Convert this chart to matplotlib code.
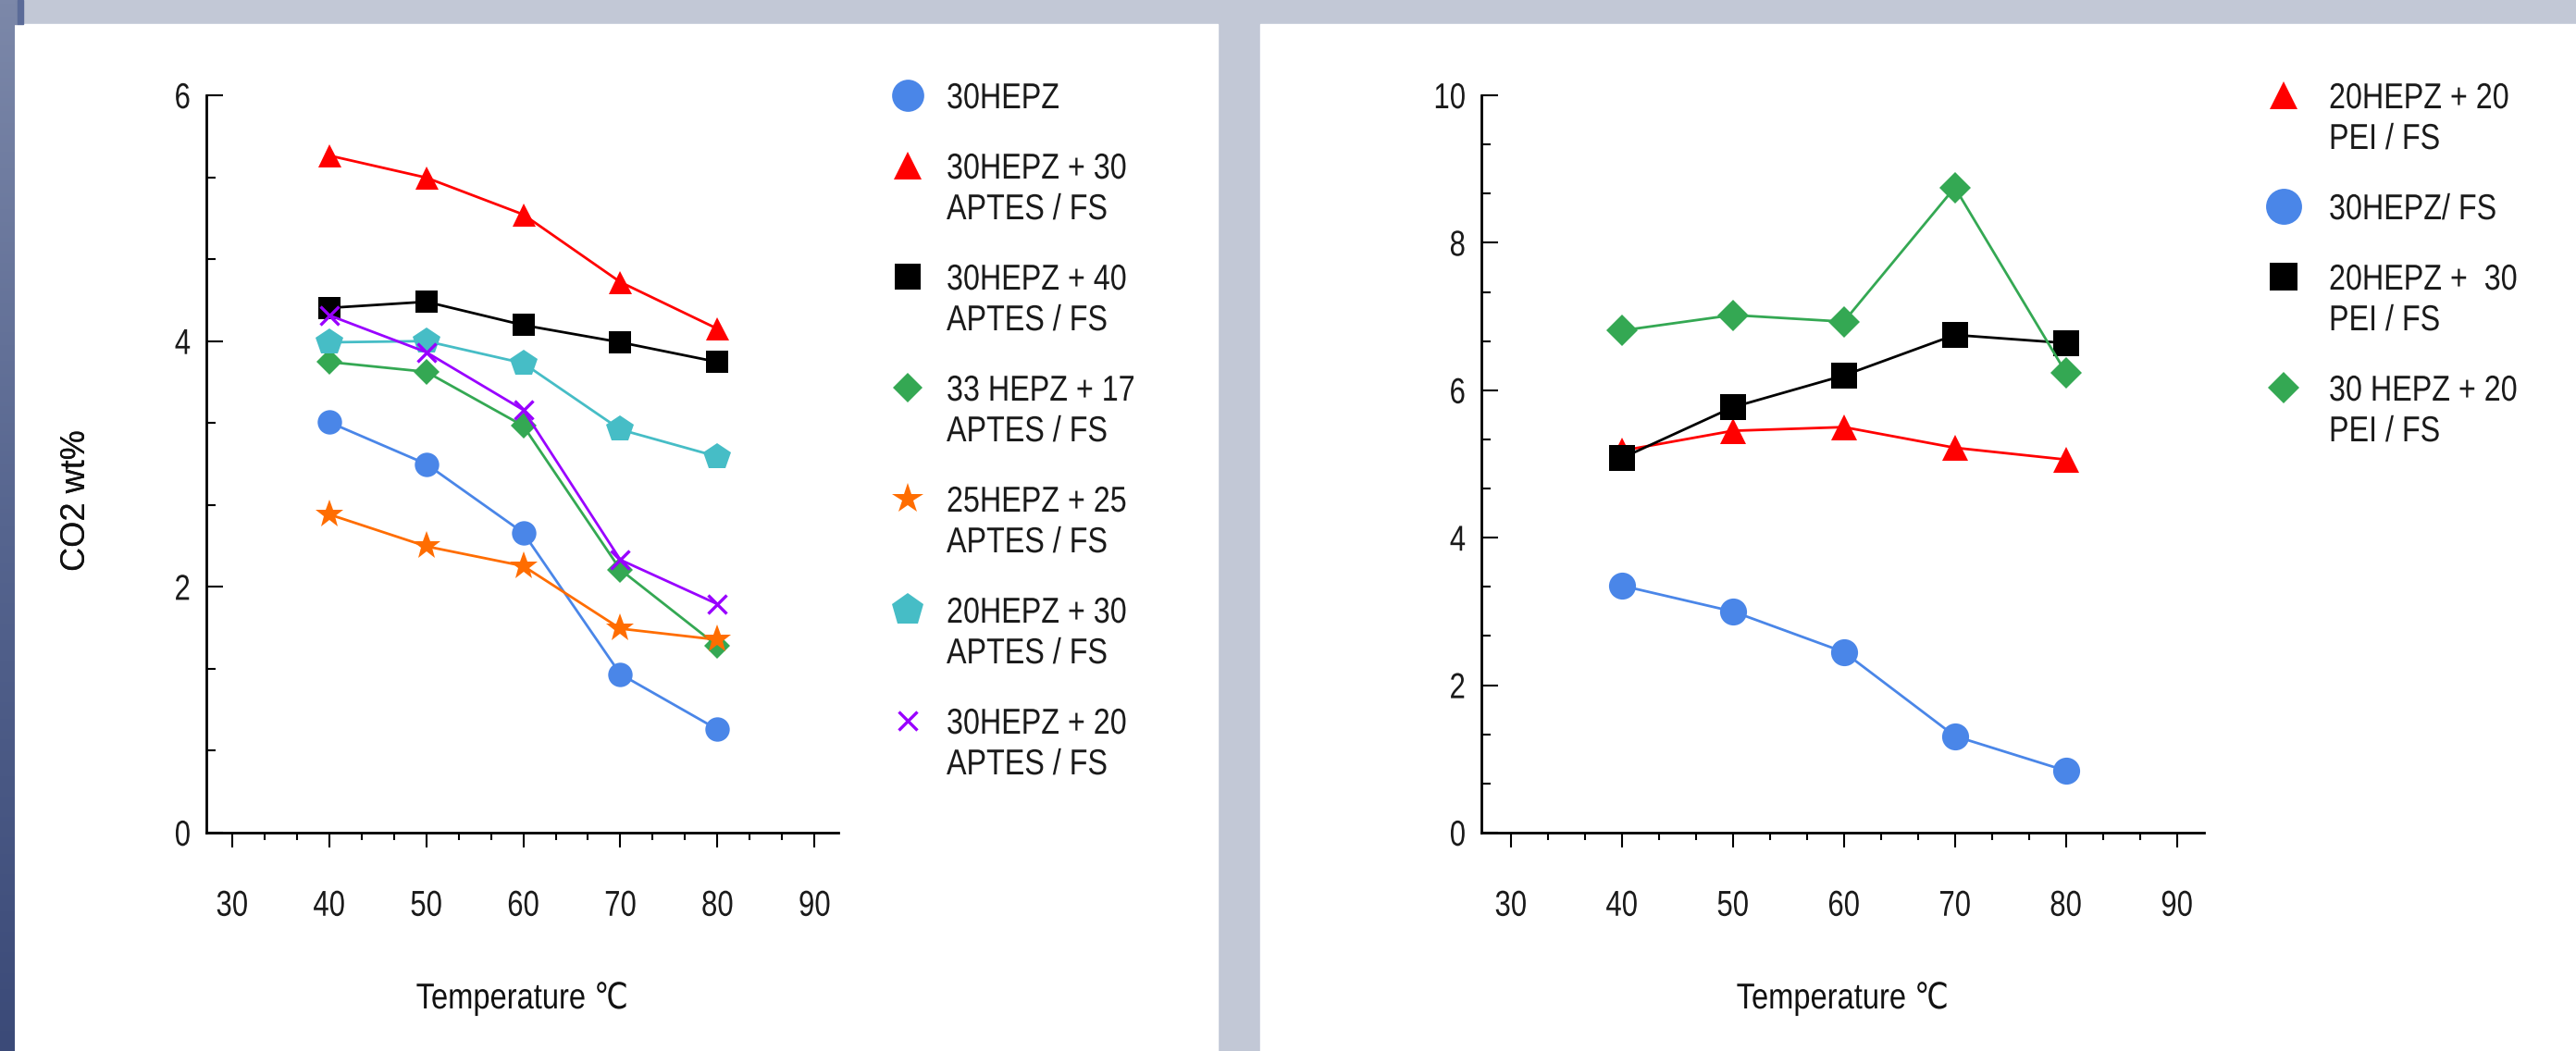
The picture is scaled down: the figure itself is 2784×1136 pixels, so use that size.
import numpy as np
import matplotlib
matplotlib.use('Agg')
import matplotlib.pyplot as plt
from matplotlib.lines import Line2D
from matplotlib.patches import Rectangle
from matplotlib.colors import LinearSegmentedColormap
from matplotlib.ticker import MultipleLocator
from matplotlib.transforms import Affine2D
from matplotlib.patheffects import AbstractPathEffect

W, H = 2784, 1136
NARROW = ['Liberation Sans Narrow', 'Liberation Sans', 'DejaVu Sans']
WIDE = ['Liberation Sans', 'DejaVu Sans']
plt.rcParams['font.family'] = NARROW

temps = [40, 50, 60, 70, 80]

# left panel (APTES)
aptes_labels = ['30HEPZ', '30HEPZ + 30\nAPTES / FS', '30HEPZ + 40\nAPTES / FS',
                '33 HEPZ + 17\nAPTES / FS', '25HEPZ + 25\nAPTES / FS',
                '20HEPZ + 30\nAPTES / FS', '30HEPZ + 20\nAPTES / FS']
hepz30 = [3.34, 3.00, 2.44, 1.29, 0.84]
hepz30_aptes30 = [5.51, 5.33, 5.03, 4.48, 4.10]
hepz30_aptes40 = [4.27, 4.32, 4.13, 3.99, 3.83]
hepz33_aptes17 = [3.83, 3.75, 3.31, 2.14, 1.52]
hepz25_aptes25 = [2.59, 2.33, 2.17, 1.66, 1.57]
hepz20_aptes30 = [3.99, 4.00, 3.82, 3.28, 3.06]
hepz30_aptes20 = [4.21, 3.91, 3.44, 2.22, 1.86]

# right panel (PEI)
pei_labels = ['20HEPZ + 20\nPEI / FS', '30HEPZ/ FS', '20HEPZ +  30\nPEI / FS',
              '30 HEPZ + 20\nPEI / FS']
hepz20_pei20 = [5.18, 5.45, 5.50, 5.22, 5.06]
hepz30_fs = [3.35, 3.00, 2.45, 1.31, 0.84]
hepz20_pei30 = [5.08, 5.77, 6.20, 6.75, 6.64]
hepz30_pei20 = [6.81, 7.02, 6.93, 8.75, 6.24]

# styles: color, marker, plot size, legend size
BLUE, RED, BLACK, GREEN = '#4a86e8', '#ff0000', '#000000', '#34a853'
ORANGE, CYAN, PURPLE = '#ff6d01', '#46bdc6', '#9900ff'
aptes_styles = [(BLUE, 'o', 19, 25), (RED, '^', 18, 22), (BLACK, 's', 17, 20),
                (GREEN, 'D', 14.5, 16), (ORANGE, '*', 23, 25), (CYAN, 'p', 22, 26),
                (PURPLE, 'x', 14, 15)]
pei_styles = [(RED, '^', 20, 22), (BLUE, 'o', 21, 28), (BLACK, 's', 20, 21),
              (GREEN, 'D', 17, 17)]


class Narrow(AbstractPathEffect):
    """squeeze glyphs sideways, like the condensed font of the original"""

    def __init__(self, sx=0.82, anchor='left'):
        super().__init__()
        self.sx = sx
        self.anchor = anchor

    def draw_path(self, renderer, gc, tpath, affine, rgbFace=None):
        ext = tpath.get_extents()
        cx = {'left': 0.0, 'center': (ext.x0 + ext.x1) / 2, 'right': ext.x1}[self.anchor]
        squeeze = Affine2D().translate(-cx, 0).scale(self.sx, 1).translate(cx, 0)
        renderer.draw_path(gc, tpath, squeeze + affine, rgbFace)


fig = plt.figure(figsize=(W / 100, H / 100), dpi=100)
fig.patch.set_facecolor('#c2c8d6')


def fx(px):
    return px / W


def fy(py):
    return 1 - py / H


# white panels and left strip
for x0, x1 in [(15, 1316), (1362, W)]:
    fig.add_artist(Rectangle((fx(x0), 0), fx(x1) - fx(x0), fy(26), color='white',
                             transform=fig.transFigure, zorder=0))
fig.add_artist(Rectangle((0, fy(26)), fx(19), 26 / H, color='#7b87a8',
                         transform=fig.transFigure, zorder=0))
fig.add_artist(Rectangle((fx(19), fy(26)), fx(6), 26 / H, color='#5b6b98',
                         transform=fig.transFigure, zorder=0))
strip = fig.add_axes([0, 0, fx(15), 1])
cmap = LinearSegmentedColormap.from_list('strip', ['#7c88a9', '#56658f', '#3b4a78'])
strip.imshow(np.linspace(0, 1, 256)[:, None], aspect='auto', cmap=cmap)
strip.axis('off')


def draw_panel(x_left, x_right, ymax, series, labels, styles, mark_x, text_x):
    ax = fig.add_axes([fx(x_left), fy(900), fx(x_right) - fx(x_left), (900 - 103) / H])
    ax.set_facecolor('white')
    for vals, (c, m, ms, _) in zip(series, styles):
        if m == 'x':
            ax.plot(temps, vals, color=c, lw=2, marker=m, ms=ms, mew=2.4)
        else:
            ax.plot(temps, vals, color=c, lw=2, marker=m, ms=ms, mew=0)
    ax.set_xlim(27.35, 92.45)
    ax.set_ylim(0, ymax)
    ax.xaxis.set_major_locator(MultipleLocator(10))
    ax.xaxis.set_minor_locator(MultipleLocator(10 / 3))
    ax.yaxis.set_major_locator(MultipleLocator(2))
    ax.yaxis.set_minor_locator(MultipleLocator(2 / 3))
    for s in ['top', 'right']:
        ax.spines[s].set_visible(False)
    for s in ['left', 'bottom']:
        ax.spines[s].set_linewidth(2)
    ax.tick_params(axis='x', which='major', direction='out', length=11.5, width=1.5,
                   pad=33, labelsize=28, labelcolor='#1a1a1a')
    ax.tick_params(axis='x', which='minor', direction='out', length=6, width=1.5)
    ax.tick_params(axis='y', which='major', direction='in', length=13, width=1.5,
                   pad=12, labelsize=28, labelcolor='#1a1a1a')
    ax.tick_params(axis='y', which='minor', direction='in', length=7, width=1.5)
    for t in ax.xaxis.get_major_ticks():
        t.label1.set_path_effects([Narrow(0.8, 'center')])
    for t in ax.yaxis.get_major_ticks():
        t.label1.set_path_effects([Narrow(0.8, 'right')])
    xl = ax.set_xlabel('Temperature \u2103', fontsize=28, va='baseline', color='#111111')
    xl.set_path_effects([Narrow(0.84, 'center')])
    ax.xaxis.set_label_coords(0.5, -0.2384)
    ax.set_ylabel('CO2 wt%', fontsize=26, family=WIDE, va='center', ha='center',
                  color='#111111')
    ax.yaxis.set_label_coords((82 - x_left) / (x_right - x_left), (900 - 541) / 797)

    # legend, drawn by hand so the marker sits on the first line
    y = 103
    for lab, (c, m, _, lms) in zip(labels, styles):
        mew = 2.4 if m == 'x' else 0
        fig.add_artist(Line2D([fx(mark_x)], [fy(y)], marker=m, ms=lms, color=c,
                              mew=mew, transform=fig.transFigure))
        lines = lab.split('\n')
        for i, line in enumerate(lines):
            txt = fig.text(fx(text_x), fy(y + 14 + 44 * i), line, fontsize=28,
                           va='baseline', ha='left', color='#1a1a1a')
            txt.set_path_effects([Narrow(0.83, 'left')])
        y += 76 + 44 * (len(lines) - 1)
    return ax


draw_panel(223, 906, 6,
           [hepz30, hepz30_aptes30, hepz30_aptes40, hepz33_aptes17,
            hepz25_aptes25, hepz20_aptes30, hepz30_aptes20],
           aptes_labels, aptes_styles, 981, 1023)
draw_panel(1601, 2382, 10,
           [hepz20_pei20, hepz30_fs, hepz20_pei30, hepz30_pei20],
           pei_labels, pei_styles, 2468, 2517)

fig.savefig('out.png', dpi=100, facecolor=fig.get_facecolor())
